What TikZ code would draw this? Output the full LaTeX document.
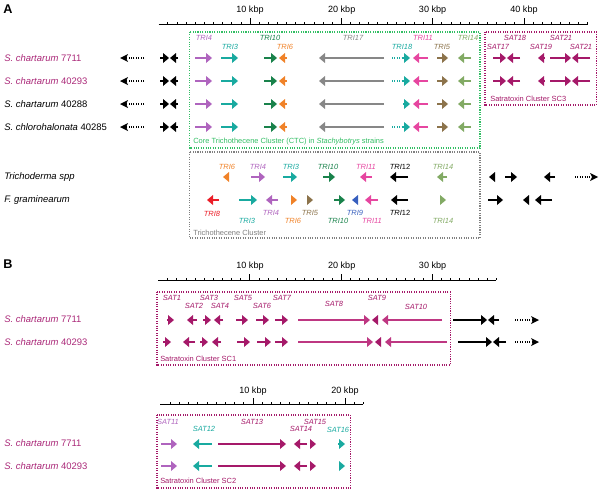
\documentclass[tikz,border=0pt]{standalone}
\usepackage{fontspec}
\setmainfont{Liberation Sans}
\definecolor{sat}{RGB}{165,25,105}
\definecolor{satlight}{RGB}{190,55,130}
\definecolor{cviol}{RGB}{175,100,190}
\definecolor{cteal}{RGB}{25,170,160}
\definecolor{cgreen}{RGB}{25,130,75}
\definecolor{corange}{RGB}{240,130,40}
\definecolor{cgray}{RGB}{135,135,135}
\definecolor{cpink}{RGB}{230,70,160}
\definecolor{cbrown}{RGB}{140,115,75}
\definecolor{csage}{RGB}{130,170,100}
\definecolor{cred}{RGB}{235,30,40}
\definecolor{cblue}{RGB}{55,95,190}
\definecolor{boxgreen}{RGB}{50,190,100}
\definecolor{strainmag}{RGB}{170,40,120}
% gene arrows: color, tail x, tip x, y
\newcommand{\gR}[4]{\draw[#1,line width=1.2pt] (#2,#4) -- (#3-5,#4); \fill[#1] (#3,#4) -- (#3-6,#4-5) -- (#3-6,#4+5) -- cycle;}
\newcommand{\gL}[4]{\draw[#1,line width=1.2pt] (#2,#4) -- (#3+5,#4); \fill[#1] (#3,#4) -- (#3+6,#4-5) -- (#3+6,#4+5) -- cycle;}
\newcommand{\dotR}[4]{\draw[#1,densely dotted,line width=0.8pt] (#2,#4) -- (#3-5,#4); \fill[#1] (#3,#4) -- (#3-8,#4-4) -- (#3-6,#4) -- (#3-8,#4+4) -- cycle;}
\newcommand{\dotL}[4]{\draw[#1,densely dotted,line width=0.8pt] (#2,#4) -- (#3+5,#4); \fill[#1] (#3,#4) -- (#3+8,#4-4) -- (#3+6,#4) -- (#3+8,#4+4) -- cycle;}
% gene label: color, x, y, text
\newcommand{\glab}[4]{\node[genelab,text=#1] (L#2x#3) at (#2,#3) {#4};}
% ruler: x0, spacing, n, y, line start
\newcommand{\rul}[5]{\draw[line width=0.7pt] (#5,#4) -- ({#1+#3*#2},#4);
\foreach \k in {1,...,#3}{\draw[line width=0.5pt] ({#1+\k*#2},#4) -- ({#1+\k*#2},{#4-2.5});}}
\begin{document}
\begin{tikzpicture}[x=0.75pt,y=-0.75pt,
  strain/.style={anchor=west,font=\fontsize{7.1}{8}\selectfont,inner sep=0pt},
  genelab/.style={font=\fontsize{5.6}{6}\selectfont\itshape,inner sep=0pt},
  boxlab/.style={anchor=west,font=\fontsize{5.6}{6}\selectfont,inner sep=0pt},
  rlab/.style={font=\fontsize{6.8}{7}\selectfont,inner sep=0pt},
  panel/.style={anchor=west,font=\fontsize{9.5}{10}\selectfont\bfseries,inner sep=0pt},
  dbox/.style={densely dotted,line width=0.8pt}]
\useasboundingbox (0,0) rectangle (600,489);

% ================= Panel A =================
\node[panel] (pA) at (3,9) {A};
\rul{158.7}{9.13}{47}{24}{158.7}
\foreach \m in {10,20,30,40}{\draw[line width=0.6pt] ({158.7+\m*9.13},24) -- ({158.7+\m*9.13},18);}
\node[rlab] (r10) at (250,10) {10 kbp};
\node[rlab] (r20) at (341.7,10) {20 kbp};
\node[rlab] (r30) at (432.6,10) {30 kbp};
\node[rlab] (r40) at (524,10) {40 kbp};

% boxes
\draw[dbox,boxgreen] (189.5,32) rectangle (480,148);
\draw[dbox,sat] (485,32) rectangle (596.5,105);
\draw[dbox,gray] (189.5,152) rectangle (480,238);
\node[boxlab,text=boxgreen] (ctc) at (193,141.5) {Core Trichothecene Cluster (CTC) in \textit{Stachybotrys} strains};
\node[boxlab,text=sat] (sc3) at (490,99) {Satratoxin Cluster SC3};
\node[boxlab,text=gray] (tc) at (193,233) {Trichothecene Cluster};

% strain labels
\node[strain,text=strainmag] (s1) at (4,58) {\textit{S. chartarum} 7711};
\node[strain,text=strainmag] (s2) at (4,81) {\textit{S. chartarum} 40293};
\node[strain] (s3) at (4,104) {\textit{S. chartarum} 40288};
\node[strain] (s4) at (4,127) {\textit{S. chlorohalonata} 40285};
\node[strain] (s5) at (4,177) {\textit{Trichoderma spp}};
\node[strain] (s6) at (4,200) {\textit{F. graminearum}};

% CTC rows
\foreach \yy in {58,81,104,127}{
  \dotL{black}{144}{120}{\yy}
  \gR{black}{160}{169}{\yy}
  \gL{black}{178}{170}{\yy}
  \gR{cviol}{195}{212}{\yy}
  \gR{cteal}{221}{238}{\yy}
  \gR{cgreen}{264}{277}{\yy}
  \gL{corange}{287}{279}{\yy}
  \gL{cgray}{384}{319}{\yy}
  \gR{cteal}{403}{410}{\yy}
  \gL{cpink}{428}{413}{\yy}
  \gR{cbrown}{437}{448}{\yy}
  \gL{csage}{471}{458}{\yy}
}
\foreach \yy in {58,81,127}{
  \draw[cteal,densely dotted,line width=0.8pt] (392,\yy) -- (404,\yy);
}
% SC3 rows
\foreach \yy in {58,81}{
  \gR{sat}{493}{506}{\yy}
  \gL{sat}{520}{507}{\yy}
  \gL{sat}{545}{538}{\yy}
  \gR{sat}{550}{571}{\yy}
  \gL{sat}{590}{572}{\yy}
}
% CTC labels
\glab{cviol}{204}{38}{TRI4}
\glab{cteal}{230}{47}{TRI3}
\glab{cgreen}{270}{38}{TRI10}
\glab{corange}{285}{47}{TRI6}
\glab{cgray}{353}{38}{TRI17}
\glab{cteal}{402}{47}{TRI18}
\glab{cpink}{423}{38}{TRI11}
\glab{cbrown}{442}{47}{TRI5}
\glab{csage}{468}{38}{TRI14}
\glab{sat}{515}{38}{SAT18}
\glab{sat}{498}{47}{SAT17}
\glab{sat}{561}{38}{SAT21}
\glab{sat}{541}{47}{SAT19}
\glab{sat}{581}{47}{SAT21}

% Trichoderma row
\gL{corange}{229}{223}{177}
\gR{cviol}{251}{265}{177}
\gR{cteal}{283}{297}{177}
\gR{cgreen}{323}{335}{177}
\gL{cpink}{372}{360}{177}
\gL{black}{408}{390}{177}
\gL{csage}{447}{437}{177}
\gL{black}{495}{489}{177}
\gR{black}{505}{517}{177}
\gL{black}{555}{544}{177}
\dotR{black}{575}{598}{177}
\glab{corange}{227}{167}{TRI6}
\glab{cviol}{258}{167}{TRI4}
\glab{cteal}{291}{167}{TRI3}
\glab{cgreen}{328}{167}{TRI10}
\glab{cpink}{366}{167}{TRI11}
\node[genelab,font=\fontsize{5.6}{6}\selectfont] (L12a) at (400,167) {\textit{TRI}12};
\glab{csage}{443}{167}{TRI14}

% F. graminearum row
\gL{cred}{219}{207}{200}
\gR{cteal}{239}{257}{200}
\gL{cviol}{278}{266}{200}
\gR{corange}{291}{297}{200}
\gR{cbrown}{307}{313}{200}
\gR{cgreen}{334}{345}{200}
\gL{cblue}{358}{352}{200}
\gL{cpink}{378}{365}{200}
\gL{black}{408}{391}{200}
\gR{csage}{440}{446}{200}
\gR{black}{488}{503}{200}
\gL{black}{529}{523}{200}
\gL{black}{552}{535}{200}
\glab{cred}{212}{214}{TRI8}
\glab{cteal}{247}{221}{TRI3}
\glab{cviol}{271}{213}{TRI4}
\glab{corange}{293}{221}{TRI6}
\glab{cbrown}{310}{213}{TRI5}
\glab{cgreen}{338}{221}{TRI10}
\glab{cblue}{355}{213}{TRI9}
\glab{cpink}{372}{221}{TRI11}
\node[genelab,font=\fontsize{5.6}{6}\selectfont] (L12b) at (400,213) {\textit{TRI}12};
\glab{csage}{443}{221}{TRI14}

% ================= Panel B =================
\node[panel] (pB) at (3,264) {B};
\rul{158.5}{9.13}{37}{280}{158}
\foreach \m in {10,20,30}{\draw[line width=0.6pt] ({158.5+\m*9.13},280) -- ({158.5+\m*9.13},274);}
\node[rlab] (rb10) at (250,266) {10 kbp};
\node[rlab] (rb20) at (341.7,266) {20 kbp};
\node[rlab] (rb30) at (432.6,266) {30 kbp};

\draw[dbox,sat] (157,292) rectangle (450.5,365);
\node[boxlab,text=sat] (sc1) at (160,359) {Satratoxin Cluster SC1};
\node[strain,text=strainmag] (b1) at (4,319) {\textit{S. chartarum} 7711};
\node[strain,text=strainmag] (b2) at (4,342) {\textit{S. chartarum} 40293};

% row 1
\gR{sat}{167}{174}{320}
\gL{sat}{197}{187}{320}
\gR{sat}{203}{211}{320}
\gL{sat}{223}{214}{320}
\gR{sat}{236}{248}{320}
\gR{sat}{256}{269}{320}
\gR{sat}{275}{288}{320}
\gR{satlight}{298}{370}{320}
\gL{sat}{378}{372}{320}
\gL{satlight}{442}{382}{320}
\gR{black}{453}{487}{320}
\gL{black}{499}{488}{320}
\dotR{black}{515}{539}{320}
% row 2
\gR{sat}{163}{171}{342}
\gL{sat}{195}{183}{342}
\gR{sat}{200}{208}{342}
\gL{sat}{221}{212}{342}
\gR{sat}{237}{250}{342}
\gR{sat}{257}{271}{342}
\gR{sat}{275}{288}{342}
\gR{satlight}{298}{373}{342}
\gL{sat}{381}{375}{342}
\gL{satlight}{447}{385}{342}
\gR{black}{458}{492}{342}
\gL{black}{506}{493}{342}
\dotR{black}{515}{539}{342}
% labels
\glab{sat}{172}{298}{SAT1}
\glab{sat}{194}{306}{SAT2}
\glab{sat}{209}{298}{SAT3}
\glab{sat}{220}{306}{SAT4}
\glab{sat}{243}{298}{SAT5}
\glab{sat}{262}{306}{SAT6}
\glab{sat}{282}{298}{SAT7}
\glab{sat}{334}{304}{SAT8}
\glab{sat}{377}{298}{SAT9}
\glab{sat}{416}{307}{SAT10}

% second part
\rul{161}{9.2}{22}{404}{160}
\foreach \m in {10,20}{\draw[line width=0.6pt] ({161+\m*9.2},404) -- ({161+\m*9.2},398);}
\node[rlab] (rc10) at (253,391) {10 kbp};
\node[rlab] (rc20) at (345,391) {20 kbp};

\draw[dbox,sat] (157,415) rectangle (350.5,488);
\node[boxlab,text=sat] (sc2) at (160,481) {Satratoxin Cluster SC2};
\node[strain,text=strainmag] (c1) at (4,443) {\textit{S. chartarum} 7711};
\node[strain,text=strainmag] (c2) at (4,466) {\textit{S. chartarum} 40293};

\foreach \yy in {444,466}{
  \gR{cviol}{161}{177}{\yy}
  \gL{cteal}{212}{193}{\yy}
  \gR{sat}{218}{286}{\yy}
  \gL{sat}{307}{294}{\yy}
  \gR{sat}{310}{316}{\yy}
}
\gR{cteal}{338}{345}{444}
\gR{cteal}{340}{345}{466}
\glab{cviol}{168}{422}{SAT11}
\glab{cteal}{204}{429}{SAT12}
\glab{sat}{252}{422}{SAT13}
\glab{sat}{315}{422}{SAT15}
\glab{sat}{301}{429}{SAT14}
\glab{cteal}{338}{430}{SAT16}
\end{tikzpicture}
\end{document}
